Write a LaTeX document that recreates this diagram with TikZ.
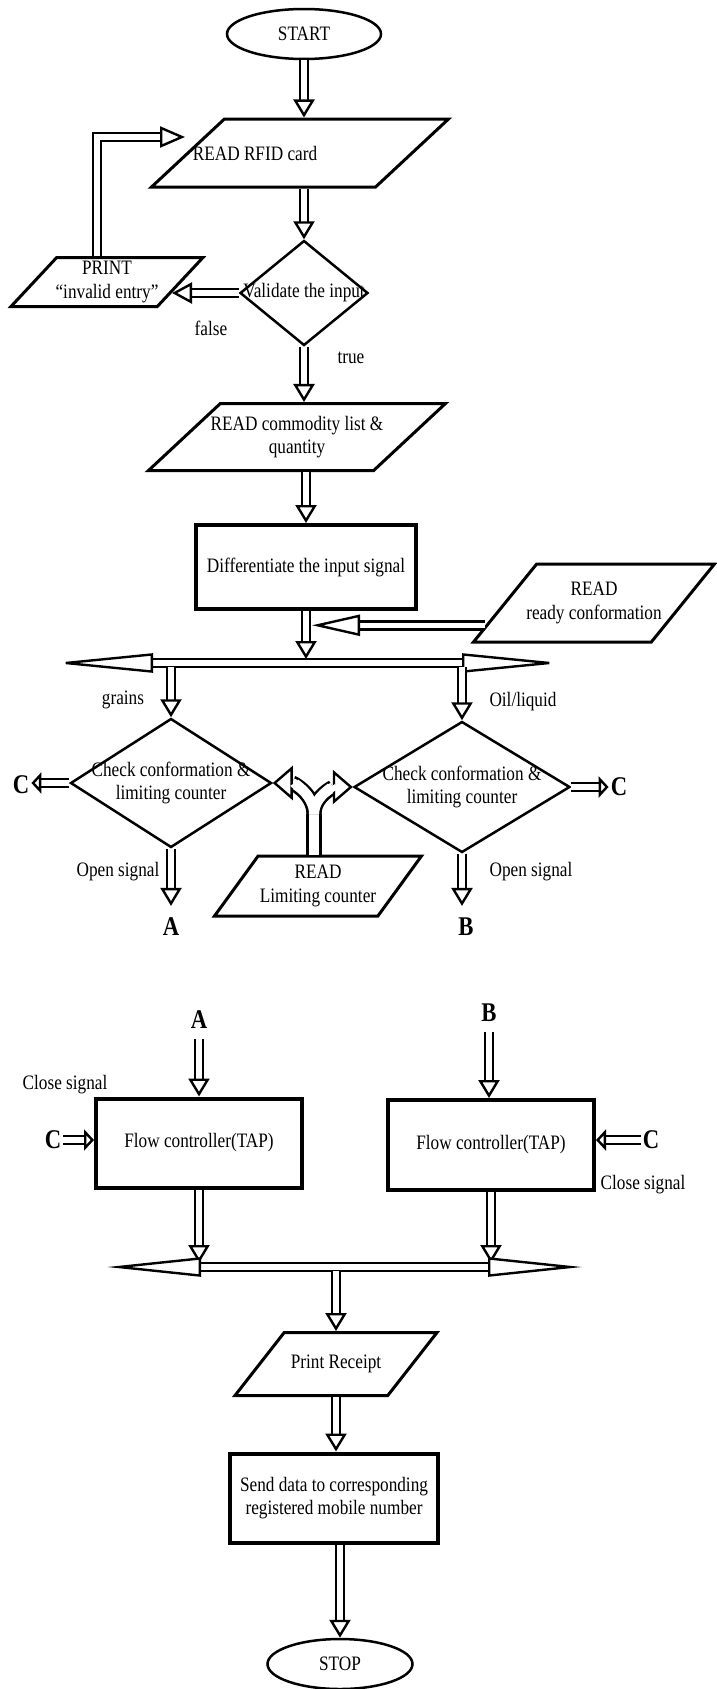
\documentclass[tikz,border=0pt]{standalone}
\usepackage{fontspec}
\setmainfont[FakeStretch=0.84]{Liberation Serif}
\usetikzlibrary{shapes.geometric,arrows.meta,positioning}

\begin{document}
\begin{tikzpicture}[x=1pt, y=-1pt, font=\fontsize{20.5}{23.5}\selectfont,
    term/.style={ellipse, draw, line width=2.5pt, minimum width=#1, minimum height=50pt, inner sep=0pt},
    io/.style 2 args={trapezium, trapezium stretches body, draw, line width=3pt, inner xsep=0pt,
        trapezium left angle=#1, trapezium right angle=#2},
    proc/.style={rectangle, draw, line width=4pt, align=center},
    dec/.style={diamond, draw, line width=2.5pt, inner sep=0pt},
    big/.style={font=\fontsize{27}{30}\selectfont\bfseries, inner sep=2pt},
    dbl/.style={double, double distance=5.5pt, line width=2.6pt},
    dblarrow/.style={dbl, -{Triangle[fill=white, length=#1, width=21pt, line width=2.4pt]}},
    dblarrow/.default=18pt,
    forkarrow/.style={dbl, double distance=10pt, -{Triangle[fill=white, length=20pt, width=34pt, line width=2.4pt]}},
    bar/.style={dbl, {Triangle[fill=white, length=#1, width=19pt, line width=2.4pt]}-{Triangle[fill=white, length=#1, width=19pt, line width=2.4pt]}}]
    \useasboundingbox (0,0) rectangle (716,1689);
    \node[term=154pt] (start) at (304,34) {START};
    \node[io={43}{137}, minimum width=297pt, inner ysep=34pt, label={[xshift=-45pt]center:READ RFID card}] (rfid) at (300,153) {};
    \node[dec, minimum width=128pt, minimum height=105pt, label=center:Validate the input] (valid) at (304,293) {};
    \node[io={47}{133}, minimum width=192pt, inner ysep=24.5pt, label={[align=center]center:PRINT\\“invalid entry”}] (print) at (107,282) {};
    \node (falselbl) at (211,328) {false};
    \node (truelbl) at (351,358) {true};
    \node[io={43}{137}, minimum width=297pt, inner ysep=33.5pt, label={[align=center]center:READ commodity list \&\\quantity}] (comm) at (297,437) {};
    \node[proc, minimum width=220pt, minimum height=84pt] (diff) at (306,567) {Differentiate the input signal};
    \node[io={51}{129}, minimum width=241pt, inner ysep=39pt, label={[align=center]center:READ\\ready conformation}] (ready) at (594,603) {};
    \coordinate (bar1l) at (53,663);
    \coordinate (bar1r) at (562,663);
    \node (grains) at (123,700) {grains};
    \node (oil) at (523,702) {Oil/liquid};
    \node[dec, minimum width=201pt, minimum height=129pt, label={[align=center]center:Check conformation \&\\limiting counter}] (chk1) at (171,783) {};
    \node[dec, minimum width=216pt, minimum height=131pt, label={[align=center]center:Check conformation \&\\limiting counter}] (chk2) at (462,787) {};
    \node[io={54}{126}, minimum width=207pt, inner ysep=30pt, label={[align=center]center:READ\\Limiting counter}] (limit) at (318,886) {};
    \coordinate (ysplit) at (314,814);
    \node[big] (c1) at (21,785) {C};
    \node[big] (c2) at (619,787) {C};
    \node (open1) at (118,872) {Open signal};
    \node (open2) at (531,872) {Open signal};
    \node[big] (a1) at (171,927) {A};
    \node[big] (b1) at (466,927) {B};
    \node[big] (a2) at (199,1020) {A};
    \node[big] (b2) at (489,1013) {B};
    \node (close1) at (65,1085) {Close signal};
    \node[proc, minimum width=206pt, minimum height=89pt] (flow1) at (199,1143) {Flow controller(TAP)};
    \node[proc, minimum width=206pt, minimum height=90pt] (flow2) at (491,1145) {Flow controller(TAP)};
    \node (close2) at (643,1185) {Close signal};
    \node[big] (c3) at (53,1140) {C};
    \node[big] (c4) at (651,1140) {C};
    \coordinate (bar2l) at (107,1267);
    \coordinate (bar2r) at (582,1267);
    \node[io={52}{128}, minimum width=202pt, inner ysep=31.5pt, label=center:Print Receipt] (receipt) at (336,1364) {};
    \node[proc, minimum width=208pt, minimum height=89pt] (send) at (334,1498) {Send data to corresponding\\registered mobile number};
    \node[term=145pt] (stop) at (340,1664) {STOP};

    \draw[dblarrow] (start.south) -- (start.south |- rfid.north);
    \draw[dblarrow] (rfid.south -| valid.north) -- (valid.north);
    \path (print.top right corner) -- (print.bottom right corner) coordinate[pos=0.71] (printin);
    \draw[dblarrow=20pt] (valid.west) -- (valid.west -| printin);
    \coordinate (loopend) at (185,137);
    \draw[dblarrow=25pt] ([xshift=-10pt]print.north) |- (loopend);
    \draw[dblarrow] (valid.south) -- (valid.south |- comm.north);
    \draw[dblarrow] (comm.south -| diff.north) -- (diff.north);
    \draw[dblarrow] (diff.south) -- ([yshift=4pt]diff.south |- bar1l);
    \path (ready.top left corner) -- (ready.bottom left corner) coordinate[pos=0.775] (readyin);
    \draw[dblarrow=48pt] (readyin) -- ([xshift=6pt]readyin -| diff.south);
    \draw[bar=100pt] (bar1l) -- (bar1r);
    \draw[dblarrow] ([yshift=-4pt]bar1l -| chk1.north) -- (chk1.north);
    \draw[dblarrow] ([yshift=-4pt]bar1l -| chk2.north) -- (chk2.north);
    \draw[dblarrow=10pt] (chk1.west) -- (chk1.west -| c1.east);
    \draw[dblarrow=10pt] (chk2.east) -- (chk2.east -| c2.west);
    \draw[dblarrow, shorten >=10pt] (chk1.south) -- (chk1.south |- a1.north);
    \draw[dblarrow, shorten >=10pt] (chk2.south) -- (chk2.south |- b1.north);
    \draw[dbl, double distance=10pt] (limit.north -| ysplit) -- (ysplit);
    \draw[forkarrow] (ysplit) to[out=90, in=0] (chk1.east);
    \draw[forkarrow] (ysplit) to[out=90, in=180] (chk2.west);
    \draw[white, line width=10pt, shorten >=22pt] (ysplit) to[out=90, in=0] (chk1.east);
    \draw[white, line width=10pt, shorten >=22pt] (ysplit) to[out=90, in=180] (chk2.west);
    \draw[dblarrow, shorten <=8pt] (a2.south) -- (a2.south |- flow1.north);
    \draw[dblarrow, shorten <=8pt] (b2.south) -- (b2.south |- flow2.north);
    \draw[dblarrow=10pt] (c3.east) -- (c3.east -| flow1.west);
    \draw[dblarrow=10pt] (c4.west) -- (c4.west -| flow2.east);
    \draw[dblarrow] (flow1.south) -- ([yshift=4pt]flow1.south |- bar2l);
    \draw[dblarrow] (flow2.south) -- ([yshift=4pt]flow2.south |- bar2l);
    \draw[bar=94pt] (bar2l) -- (bar2r);
    \draw[dblarrow] ([yshift=-4pt]bar2l -| receipt.north) -- (receipt.north);
    \draw[dblarrow] (receipt.south) -- (receipt.south |- send.north);
    \draw[dblarrow] (stop.north |- send.south) -- (stop.north);
\end{tikzpicture}
\end{document}
